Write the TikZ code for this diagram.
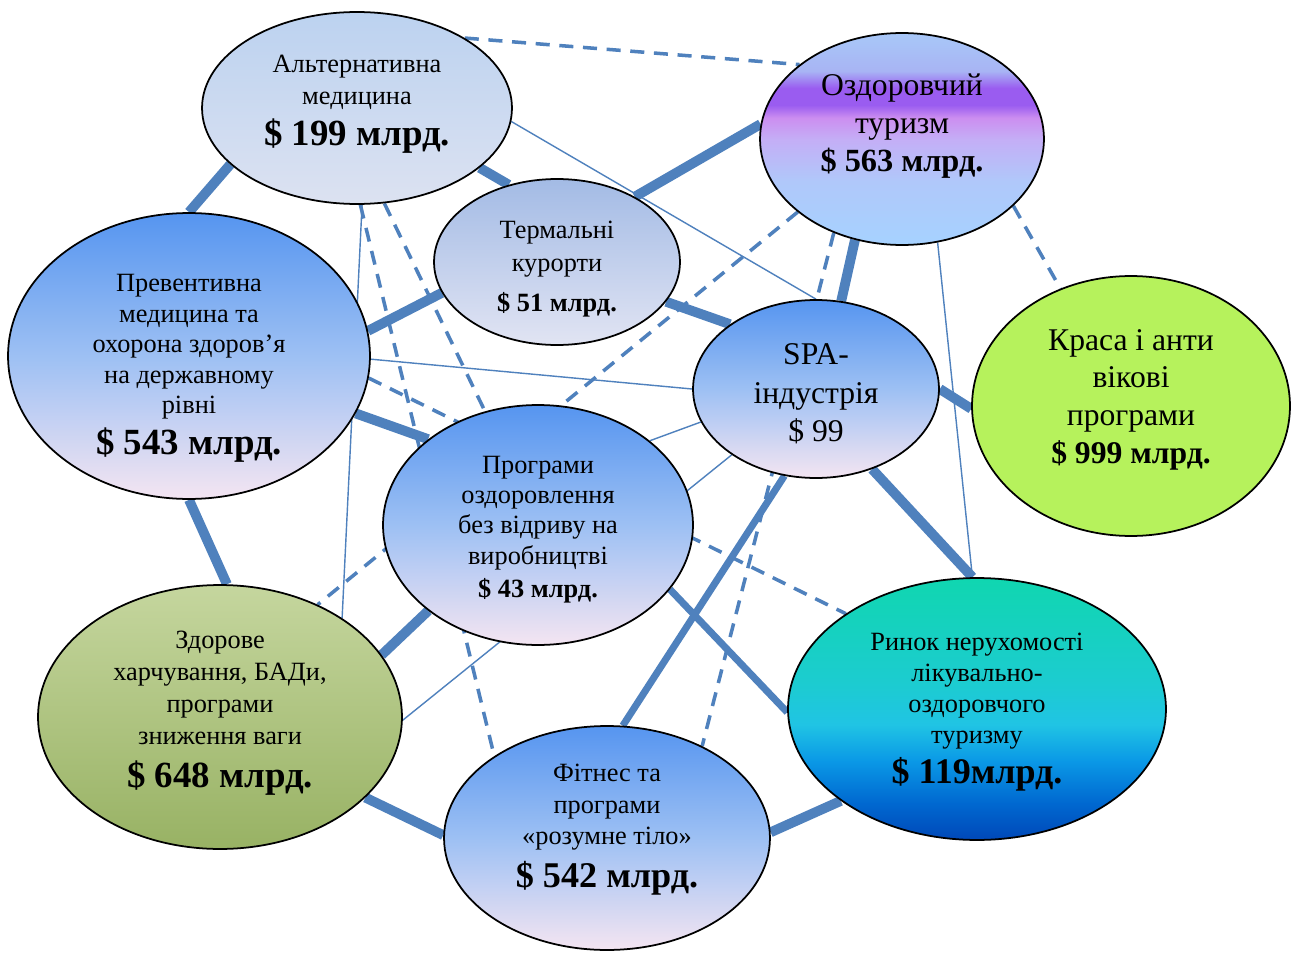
\documentclass[tikz,border=0pt]{standalone}
\usepackage{fontspec}
\setmainfont{Liberation Serif}
\usetikzlibrary{shapes.geometric}
\definecolor{Link}{HTML}{4F81BD}
\definecolor{AltTop}{HTML}{BCD2F0}
\definecolor{AltBot}{HTML}{DCE2F1}
\definecolor{TermTop}{HTML}{A3BBE5}
\definecolor{TermBot}{HTML}{E1E4F3}
\definecolor{SkyTop}{HTML}{5695F0}
\definecolor{SkyMid}{HTML}{9DC0F3}
\definecolor{SkyBot}{HTML}{F4E5F2}
\definecolor{Lime}{HTML}{B6F25C}
\definecolor{OliveTop}{HTML}{C5D69E}
\definecolor{OliveBot}{HTML}{98B264}
\definecolor{OzdA}{HTML}{A6D2FF}
\definecolor{OzdB}{HTML}{B0C8FA}
\definecolor{OzdC}{HTML}{C4AEF6}
\definecolor{OzdD}{HTML}{CC8EF0}
\definecolor{OzdE}{HTML}{9A5CF0}
\definecolor{OzdF}{HTML}{A8B4F4}
\definecolor{OzdG}{HTML}{A8C8F8}
\definecolor{RynA}{HTML}{0048B8}
\definecolor{RynB}{HTML}{0068D0}
\definecolor{RynC}{HTML}{0A98E6}
\definecolor{RynD}{HTML}{20C4E4}
\definecolor{RynE}{HTML}{1CCCD0}
\definecolor{RynF}{HTML}{10D6B0}
\pgfdeclareverticalshading{ozdshade}{100bp}{color(0bp)=(OzdA); color(25bp)=(OzdA); color(40bp)=(OzdB); color(50bp)=(OzdC); color(55bp)=(OzdD); color(58bp)=(OzdE); color(62bp)=(OzdE); color(66bp)=(OzdF); color(75bp)=(OzdG); color(100bp)=(OzdG)}
\pgfdeclareverticalshading{rynshade}{100bp}{color(0bp)=(RynA); color(25bp)=(RynA); color(32bp)=(RynB); color(40bp)=(RynC); color(47bp)=(RynD); color(55bp)=(RynE); color(75bp)=(RynF); color(100bp)=(RynF)}
\pgfdeclarelayer{back}
\pgfsetlayers{back,main}
\newcommand{\setfs}[2]{\fontsize{#1pt}{#2pt}\selectfont}
\newcommand{\priceline}[2]{{\bfseries\fontsize{#1pt}{#1pt}\selectfont #2}}
\tikzset{
 bubble/.style 2 args={ellipse, draw=black, line width=1pt, inner sep=0pt, minimum width=#1, minimum height=#2},
 pale/.style={top color=AltTop, bottom color=AltBot},
 steel/.style={top color=TermTop, bottom color=TermBot},
 sky/.style={top color=SkyTop, bottom color=SkyBot, middle color=SkyMid},
 lime/.style={fill=Lime},
 olive/.style={top color=OliveTop, bottom color=OliveBot},
 ozdfill/.style={shade, shading=ozdshade},
 rynfill/.style={shade, shading=rynshade},
 txt/.style={align=center, inner sep=0pt},
 bigline/.style={draw=Link, line width=5.6pt},
 midline/.style={draw=Link, line width=4pt},
 thinline/.style={draw=Link, line width=0.8pt},
 dashline/.style={draw=Link, line width=2pt, dash pattern=on 8pt off 5.5pt}
}
\begin{document}
\begin{tikzpicture}[x=0.02cm, y=-0.02cm]
\useasboundingbox (0,0) rectangle (1292,953);
% bubbles
\node[bubble={6.2cm}{3.84cm}, pale] (alt) at (357,108) {};
\node[bubble={5.68cm}{4.24cm}, ozdfill] (ozd) at (902,139) {};
\node[bubble={4.92cm}{3.32cm}, steel] (term) at (557,262) {};
\node[bubble={7.24cm}{5.72cm}, sky] (prev) at (189,356) {};
\node[bubble={4.92cm}{3.56cm}, sky] (spa) at (816,389) {};
\node[bubble={6.36cm}{5.2cm}, lime] (krasa) at (1131,406) {};
\node[bubble={6.2cm}{4.8cm}, sky] (progr) at (538,525) {};
\node[bubble={7.28cm}{5.28cm}, olive] (zdor) at (220,717) {};
\node[bubble={6.52cm}{4.48cm}, sky] (fit) at (607,838) {};
\node[bubble={7.56cm}{5.24cm}, rynfill] (rynok) at (977,709) {};
% texts
\node[txt, font=\setfs{15}{18}] (alt-t) at (357,104.5) {Альтернативна\\медицина\\[4.3pt]\priceline{21}{\$ 199 млрд.}};
\node[txt, font=\setfs{18}{21.5}] (ozd-t) at (902,126) {Оздоровчий\\туризм\\\priceline{18.4}{\$ 563 млрд.}};
\node[txt, font=\setfs{15}{18.7}] (term-t) at (557,269) {Термальні\\курорти\\[3.7pt]\priceline{15}{\$ 51 млрд.}};
\node[txt, font=\setfs{15}{17.4}] (prev-t) at (189,368.5) {Превентивна\\медицина та\\охорона здоров’я\\на державному\\рівні\\[3.8pt]\priceline{21}{\$ 543 млрд.}};
\node[txt, font=\setfs{18}{22}] (spa-t) at (816,394) {SPA-\\індустрія\\\$ 99};
\node[txt, font=\setfs{18}{21.3}] (krasa-t) at (1131,400) {Краса і анти\\вікові\\програми\\[0.6pt]\priceline{18}{\$ 999 млрд.}};
\node[txt, font=\setfs{15}{17.2}] (progr-t) at (538,529.5) {Програми\\оздоровлення\\без відриву на\\виробництві\\[1.7pt]\priceline{15}{\$ 43 млрд.}};
\node[txt, font=\setfs{15}{18.1}] (zdor-t) at (220,713.5) {Здорове\\харчування, БАДи,\\програми\\зниження ваги\\[6.8pt]\priceline{21}{\$ 648 млрд.}};
\node[txt, font=\setfs{15}{17.9}] (fit-t) at (607,830) {Фітнес та\\програми\\«розумне тіло»\\[5.4pt]\priceline{20.6}{\$ 542 млрд.}};
\node[txt, font=\setfs{15}{17.6}] (rynok-t) at (977,712) {Ринок нерухомості\\лікувально-\\оздоровчого\\туризму\\[3.7pt]\priceline{20.5}{\$ 119млрд.}};
\begin{pgfonlayer}{back}
\fill[white] (0,0) rectangle (1292,953);
% thick links
\draw[bigline] (alt.204) -- (prev.90);
\draw[bigline] (alt.334) -- (term.122);
\draw[bigline] (term.40) -- (ozd.174);
\draw[bigline] (prev.8) -- (term.195);
\draw[bigline] (term.340) -- (spa.143);
\draw[bigline] (ozd.245) -- (spa.74);
\draw[bigline] (spa.0) -- (krasa.181);
\draw[bigline] (spa.305) -- (rynok.92);
\draw[bigline] (prev.341) -- (progr.142);
\draw[bigline] (prev.270) -- (zdor.87);
\draw[bigline] (zdor.21) -- (progr.218);
\draw[bigline] (zdor.331) -- (fit.179);
\draw[bigline] (fit.2) -- (rynok.214);
\draw[midline] (progr.334) -- (rynok.181);
\draw[midline] (spa.250) -- (fit.82);
% thin links
\draw[thinline] (alt.355) -- (spa.90);
\draw[thinline] (alt.273) -- (zdor.39);
\draw[thinline] (prev.359) -- (spa.180);
\draw[thinline] (progr.37) -- (spa.196);
\draw[thinline] (zdor.359) -- (spa.218);
\draw[thinline] (ozd.289) -- (rynok.92);
% dashed links
\draw[dashline] (alt.33) -- (ozd.144);
\draw[dashline] (ozd.329) -- (krasa.121);
\draw[dashline] (ozd.215) -- (zdor.49);
\draw[dashline] (ozd.234) -- (fit.44);
\draw[dashline] (alt.286) -- (progr.115);
\draw[dashline] (alt.272) -- (fit.144);
\draw[dashline] (prev.353) -- (rynok.144);
\end{pgfonlayer}
\end{tikzpicture}
\end{document}
